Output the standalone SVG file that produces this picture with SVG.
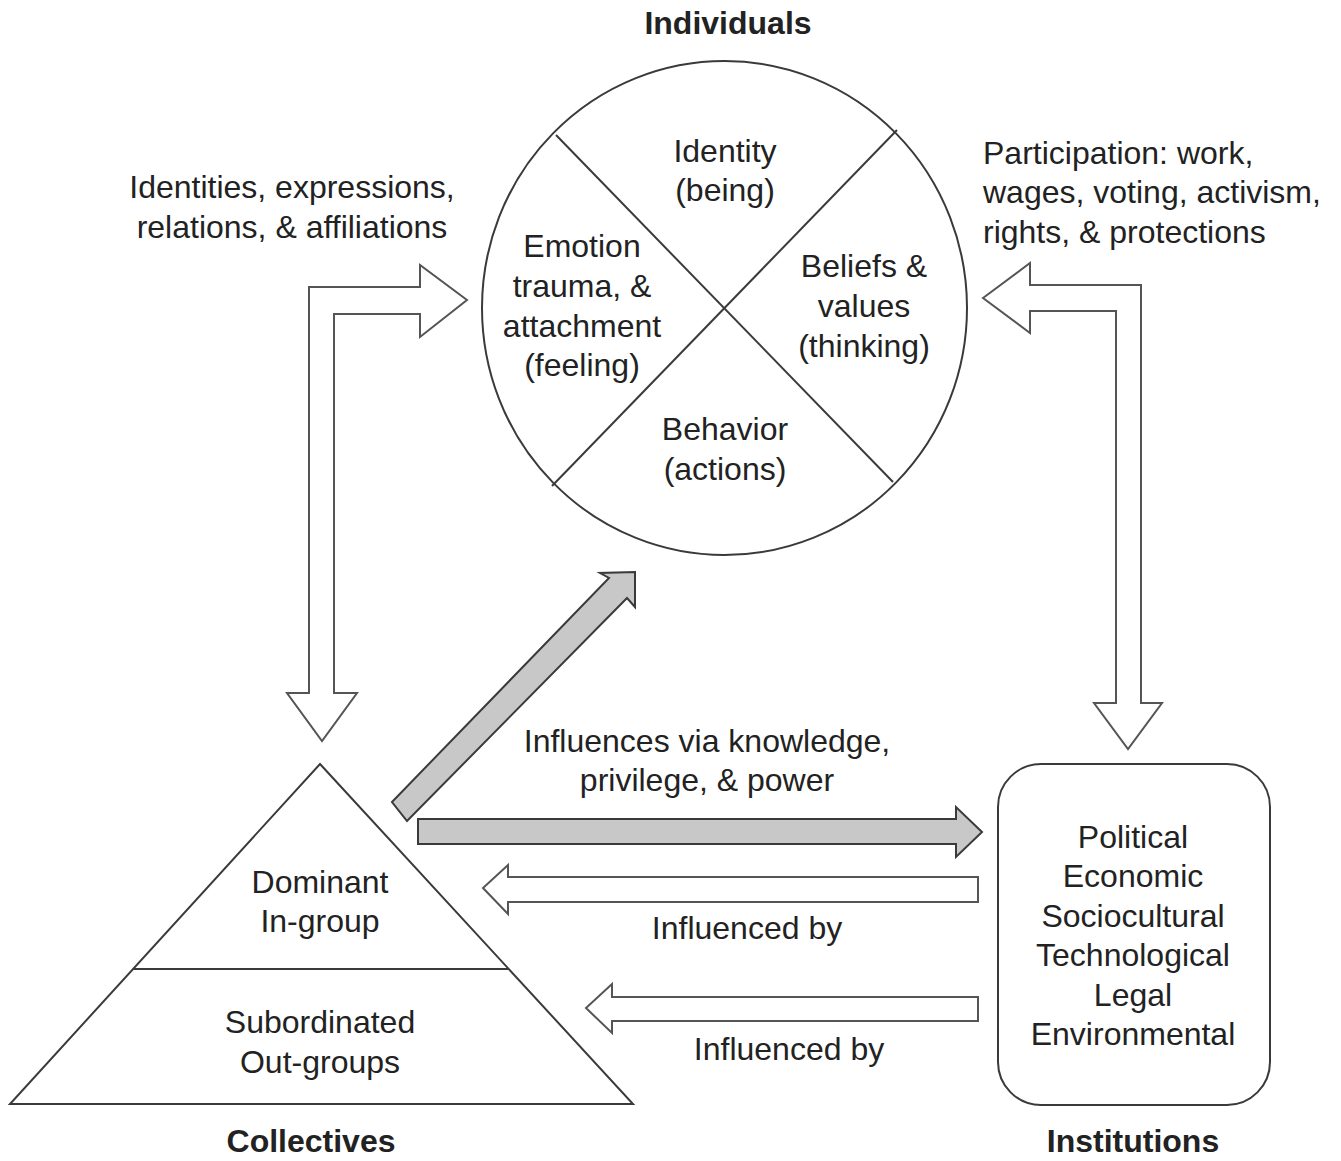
<svg xmlns="http://www.w3.org/2000/svg" width="1341" height="1161" viewBox="0 0 1341 1161">
<style>
text{font-family:"Liberation Sans",Arial,sans-serif;font-size:32px;fill:#222;text-anchor:middle}
.b{font-weight:bold}
.l{text-anchor:start}
.shape{fill:#fff;stroke:#3a3a3a;stroke-width:2}
.line{stroke:#3a3a3a;stroke-width:2;fill:none}
.hollow{fill:#fff;stroke:#555;stroke-width:2;stroke-linejoin:miter}
.solid{fill:#c8c8c8;stroke:#3a3a3a;stroke-width:2;stroke-linejoin:miter}
</style>
<rect width="1341" height="1161" fill="#fff"/>

<g id="node-individuals">
  <ellipse class="shape" cx="724.5" cy="308" rx="242.5" ry="247"/>
  <line class="line" x1="556" y1="135" x2="893" y2="482"/>
  <line class="line" x1="897" y1="130" x2="552" y2="486"/>
  <text class="b" x="728" y="34">Individuals</text>
  <text x="725" y="162">Identity</text>
  <text x="725" y="201">(being)</text>
  <text x="582" y="257">Emotion</text>
  <text x="582" y="297">trauma, &amp;</text>
  <text x="582" y="337">attachment</text>
  <text x="582" y="376">(feeling)</text>
  <text x="864" y="277">Beliefs &amp;</text>
  <text x="864" y="317">values</text>
  <text x="864" y="357">(thinking)</text>
  <text x="725" y="440">Behavior</text>
  <text x="725" y="480">(actions)</text>
</g>

<g id="node-collectives">
  <polygon class="shape" points="320,764 633,1104 10,1104"/>
  <line class="line" x1="133" y1="969" x2="509" y2="969"/>
  <text x="320" y="893">Dominant</text>
  <text x="320" y="932">In-group</text>
  <text x="320" y="1033">Subordinated</text>
  <text x="320" y="1073">Out-groups</text>
  <text class="b" x="311" y="1152">Collectives</text>
</g>

<g id="node-institutions">
  <rect class="shape" x="998" y="764" width="272" height="341" rx="43" ry="43"/>
  <text x="1133" y="848">Political</text>
  <text x="1133" y="887">Economic</text>
  <text x="1133" y="927">Sociocultural</text>
  <text x="1133" y="966">Technological</text>
  <text x="1133" y="1006">Legal</text>
  <text x="1133" y="1045">Environmental</text>
  <text class="b" x="1133" y="1152">Institutions</text>
</g>

<g id="connectors">
  <path class="hollow" d="M309,693 L309,287 L420,287 L420,265 L467,300 L420,337 L420,314 L334,314 L334,693 L357,693 L322,741 L287,693 Z"/>
  <path class="hollow" d="M983,298 L1030,263 L1030,285 L1141,285 L1141,703 L1162,703 L1128,749 L1094,703 L1116,703 L1116,311 L1030,311 L1030,333 Z"/>
  <path class="solid" d="M392,802 L609,578 L600,573 L635,572 L635,607 L627,598 L407,821 Z"/>
  <path class="solid" d="M418,819 L956,819 L956,807 L982,832 L956,857 L956,844 L418,844 Z"/>
  <path class="hollow" d="M978,877 L508,877 L508,865 L483,888 L508,914 L508,902 L978,902 Z"/>
  <path class="hollow" d="M978,997 L612,997 L612,984 L586,1008 L612,1033 L612,1021 L978,1021 Z"/>
  <text x="292" y="198">Identities, expressions,</text>
  <text x="292" y="238">relations, &amp; affiliations</text>
  <text class="l" x="983" y="164">Participation: work,</text>
  <text class="l" x="983" y="203">wages, voting, activism,</text>
  <text class="l" x="983" y="243">rights, &amp; protections</text>
  <text x="707" y="752">Influences via knowledge,</text>
  <text x="707" y="791">privilege, &amp; power</text>
  <text x="747" y="939">Influenced by</text>
  <text x="789" y="1060">Influenced by</text>
</g>
</svg>
